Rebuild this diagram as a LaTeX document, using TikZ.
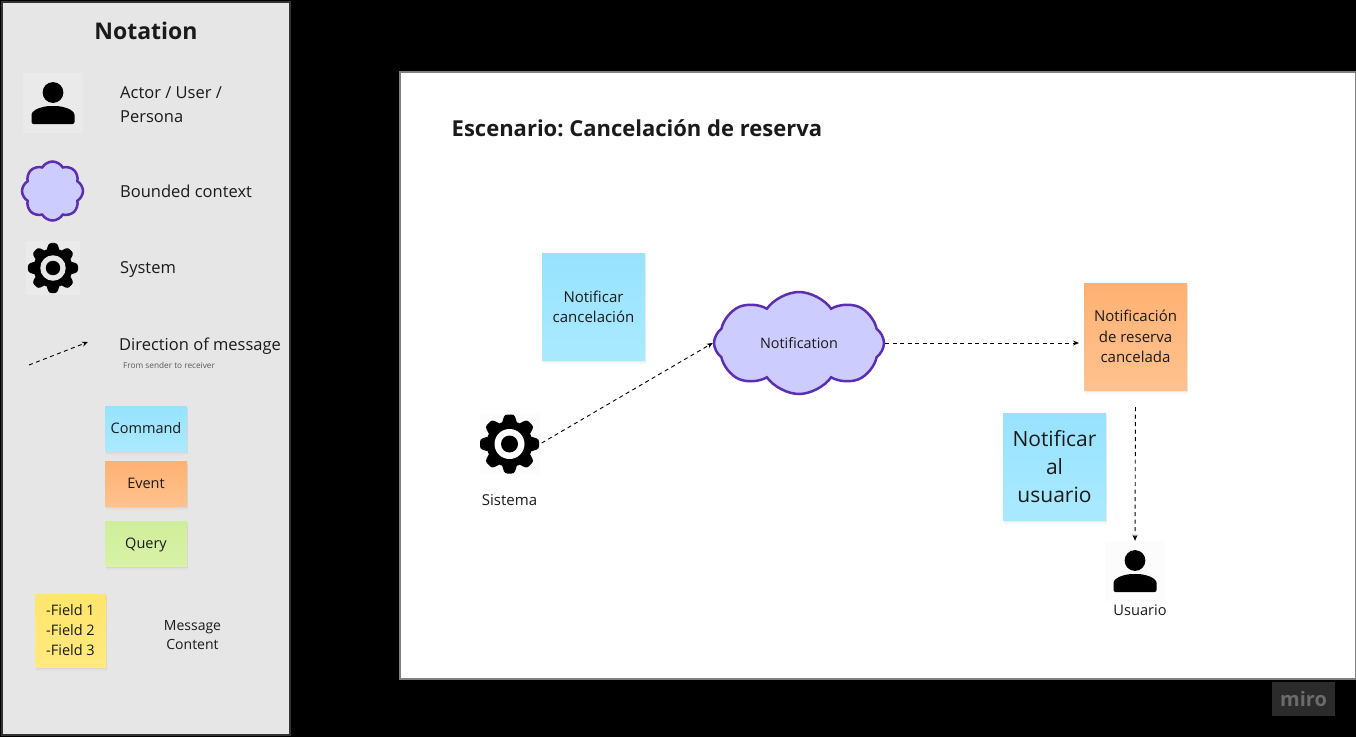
\documentclass[tikz,border=0pt]{standalone}
\usepackage{fontspec}
\setmainfont{Open Sans}
\usetikzlibrary{arrows.meta,shapes.symbols,shadows}
\definecolor{boardink}{HTML}{1A1A1A}
\definecolor{panelgrey}{HTML}{E6E6E6}
\definecolor{panelline}{HTML}{333333}
\definecolor{cloudfill}{HTML}{CCCCFF}
\definecolor{cloudline}{HTML}{5B2FB0}
\newcommand{\fs}[2]{\fontsize{#1}{#2}\selectfont}
\frenchspacing
\tikzset{
  pics/gearicon/.style={code={
    \foreach \ang in {0,45,...,315}
      \fill[black, rounded corners=2.5pt, rotate=\ang]
        (20pt,-8pt) -- (29.5pt,-4.8pt) -- (29.5pt,4.8pt) -- (20pt,8pt) -- cycle;
    \fill[black] (0,0) circle (23pt);
    \fill[#1] (0,0) circle (15pt);
    \fill[black] (0,0) circle (8.5pt);
  }},
  pics/personicon/.style={code={
    \fill[black] (0,-10.5) circle (10.4pt);
    \fill[black, rounded corners=2pt] (-21.5,21) -- (-21.5,14)
      .. controls (-21.5,7) and (-11,3) .. (0,3)
      .. controls (11,3) and (21.5,7) .. (21.5,14) -- (21.5,21) -- cycle;
  }}
}

\begin{document}
\begin{tikzpicture}[
  x=1pt,
  y=-1pt,
  every node/.style={boardink, inner sep=0pt},
  label/.style={anchor=west, align=left, font=\fs{16.5}{24}},
  sticky/.style={minimum width=#1, align=center, font=\fs{14.5}{20},
    drop shadow={opacity=0.06, shadow xshift=1pt, shadow yshift=-4pt},
    drop shadow={opacity=0.10, shadow xshift=0.5pt, shadow yshift=-2pt}},
  bluenote/.style={sticky=103pt, minimum height=107pt, top color=blueTop, bottom color=blueEnd},
  orangenote/.style={sticky=103pt, minimum height=107pt, top color=orangeTop, bottom color=orangeEnd},
  iconbox/.style={minimum width=60pt, minimum height=60pt},
  ctxcloud/.style={cloud, cloud puffs=8, cloud ignores aspect, draw=cloudline, fill=cloudfill,
    line width=2.5pt, font=\fs{14.4}{20}},
  msg/.style={black, line width=0.9pt, dash pattern=on 4pt off 3.5pt, -{Stealth[length=6pt, width=5pt]}}
]
  \definecolor{blueTop}{HTML}{97E2FF}
  \definecolor{blueEnd}{HTML}{AAEAFF}
  \definecolor{orangeTop}{HTML}{FFB172}
  \definecolor{orangeEnd}{HTML}{FFC28F}
  \definecolor{greenTop}{HTML}{CFEE99}
  \definecolor{greenEnd}{HTML}{D8F2A8}
  \definecolor{yellowTop}{HTML}{FFE56B}
  \definecolor{yellowEnd}{HTML}{FFEA80}

  % ---- backdrop ----
  \useasboundingbox (0,0) rectangle (1356,737);
  \fill[black] (0,0) rectangle (1356,737);
  \draw[panelline, fill=panelgrey, line width=2pt] (2,2) rectangle (290,735);
  \draw[gray, fill=white, line width=1.2pt] (400,72) rectangle (1355.5,679);

  % ---- notation panel ----
  \node[font=\bfseries\fs{23}{28}] (notationtitle) at (146,30.5) {Notation};

  \node[iconbox, fill=white!15!panelgrey] (actorbox) at (53,103) {};
  \pic at (actorbox.center) {personicon};
  \node[label] (actortext) at (120,105) {Actor / User /\\Persona};

  \node[ctxcloud, minimum width=61pt, minimum height=59pt, cloud puff arc=120] (ctxkey) at (52.5,191) {};
  \node[label] (ctxtext) at (120,191) {Bounded context};

  \node[iconbox, minimum width=54pt, minimum height=54pt, fill=white!15!panelgrey] (gearkey) at (53,268) {};
  \pic[scale=0.85] at (gearkey.center) {gearicon=panelgrey};
  \node[label] (geartext) at (120,269.5) {System};

  \coordinate (msgfrom) at (29,365);
  \coordinate (msgto) at (88,342);
  \draw[msg] (msgfrom) -- (msgto);
  \node[label] (msgtext) at (119,346) {Direction of message};
  \node[label, font=\fs{8.25}{10}, text=black!65] (msgsub) at (123,365) {From sender to receiver};

  \node[sticky=82pt, minimum height=45pt, top color=blueTop, bottom color=blueEnd] (keycommand) at (146,428.5) {Command};
  \node[sticky=82pt, minimum height=45pt, top color=orangeTop, bottom color=orangeEnd] (keyevent) at (146,483.5) {Event};
  \node[sticky=82pt, minimum height=45pt, top color=greenTop, bottom color=greenEnd] (keyquery) at (146,543.5) {\raisebox{0pt}[\height][0pt]{Query}};
  \node[sticky=71pt, minimum height=73pt, top color=yellowTop, bottom color=yellowEnd] (keyfields) at (70.5,630.5) {-Field 1\\-Field 2\\-Field 3};
  \node[align=center, font=\fs{14}{19}] (fieldstext) at (192.5,635.5) {Message\\Content};

  % ---- scenario board ----
  \node[anchor=west, font=\bfseries\fs{22}{26}] (scenetitle) at (451.5,128) {Escenario: Cancelación de reserva};

  \node[bluenote, font=\fs{15}{20}] (cmdcancel) at (593.5,306.5) {Notificar\\cancelación};
  \node[orangenote, font=\fs{15}{20.5}] (evtcancel) at (1135.5,336.5) {Notificación\\de reserva\\cancelada};
  \node[bluenote, font=\fs{21}{28}] (cmdnotify) at (1054.5,466.5) {Notificar\\al\\usuario};

  \node[iconbox, fill=black!1] (gearbox) at (509.5,444) {};
  \pic at (gearbox.center) {gearicon=white};
  \node[font=\fs{15}{18}] (geartag) at (509.5,500) {Sistema};

  \node[ctxcloud, minimum width=170pt, minimum height=102pt, cloud puff arc=110] (notifcloud) at (799,343) {Notification};

  \node[iconbox, fill=black!1] (userbox) at (1135,571) {};
  \pic at (userbox.center) {personicon};
  \node[font=\fs{14.6}{18}] (usertag) at (1140,610) {Usuario};

  % ---- messages between board items ----
  \coordinate (evtin) at (1079,343);
  \draw[msg] (gearbox.east) ++(2,-1) -- (notifcloud.west);
  \draw[msg] (notifcloud.east) -- (evtin);
  \draw[msg, shorten <=17pt] (evtcancel.south) -- (userbox.north);

  % ---- badge ----
  \node[fill=white!17!black, minimum width=63pt, minimum height=34pt, text=white!42!black,
        font=\bfseries\fs{20}{24}] (miro) at (1303.5,699) {miro};
\end{tikzpicture}
\end{document}
